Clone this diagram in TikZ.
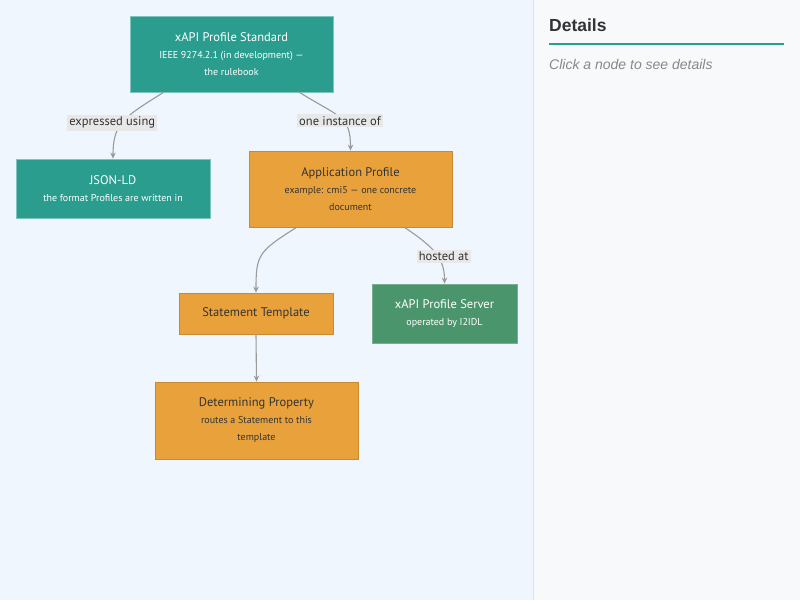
\documentclass[tikz,border=0pt]{standalone}
\usepackage{fontspec}
\setmainfont{PT Sans}
\newfontfamily\panelfont{Liberation Sans}
\usepackage{tikz}
\usetikzlibrary{positioning,arrows.meta}

\definecolor{stdteal}{HTML}{2A9D8F}
\definecolor{apporange}{HTML}{E9A23B}
\definecolor{srvgreen}{HTML}{4A956B}
\definecolor{edgegray}{HTML}{9A9A9A}
\definecolor{lblgray}{HTML}{E8E8E8}
\definecolor{textdark}{HTML}{333333}
\definecolor{leftbg}{HTML}{EFF6FD}
\definecolor{rightbg}{HTML}{F7F9FB}
\definecolor{panelline}{HTML}{DDE3E8}
\definecolor{hintgray}{HTML}{888888}

\newcommand{\ttl}[1]{{\fontsize{12.5}{17}\selectfont #1}}

\tikzset{
  box/.style={rectangle, align=center, inner sep=0pt, line width=0.8pt,
    font=\fontsize{10}{17}\selectfont},
  tealbox/.style={box, fill=stdteal, draw=stdteal!60!white, text=white},
  orangebox/.style={box, fill=apporange, draw=apporange!85!black, text=textdark},
  greenbox/.style={box, fill=srvgreen, draw=srvgreen!75!white, text=white},
  edge/.style={draw=edgegray, line width=1.1pt, -{Stealth[length=6pt,width=5.5pt]}},
  lbl/.style={fill=lblgray, text=textdark, inner sep=2pt,
    font=\fontsize{12.5}{14}\selectfont}
}

\begin{document}
\begin{tikzpicture}[x=1pt,y=-1pt]
    \useasboundingbox (0,0) rectangle (800,600);
    \fill[leftbg] (0,0) rectangle (533,600);
    \fill[rightbg] (534,0) rectangle (800,600);
    \draw[panelline] (533.5,0) -- (533.5,600);

    \node[tealbox, minimum width=203, minimum height=76] (std) at (231.5,54)
        {\ttl{xAPI Profile Standard}\\IEEE 9274.2.1 (in development) ---\\the rulebook};
    \node[tealbox, minimum width=194, minimum height=59] (json) at (113,188.5)
        {\ttl{JSON-LD}\\the format Profiles are written in};
    \node[orangebox, minimum width=203, minimum height=76] (app) at (350.5,189)
        {\ttl{Application Profile}\\example: cmi5 --- one concrete\\document};
    \node[orangebox, minimum width=154, minimum height=41] (stmt) at (256,313.5)
        {\ttl{Statement Template}};
    \node[greenbox, minimum width=145, minimum height=59] (srv) at (444.5,313.5)
        {\ttl{xAPI Profile Server}\\operated by I2IDL};
    \node[orangebox, minimum width=203, minimum height=77] (det) at (256.5,420.5)
        {\ttl{Determining Property}\\routes a Statement to this\\template};

    \draw[edge] ([xshift=-68]std.south) .. controls +(-40,25) and +(0,-35) .. node[lbl, pos=0.5, xshift=-11, yshift=-1] {expressed using} (json.north);
    \draw[edge] ([xshift=68]std.south) .. controls +(40,25) and +(0,-35) .. node[lbl, pos=0.5, yshift=-3] {one instance of} (app.north);
    \draw[edge] ([xshift=-54]app.south) .. controls +(-38,24) and +(0,-38) .. (stmt.north);
    \draw[edge] ([xshift=54]app.south) .. controls +(30,20) and +(0,-25) .. node[lbl, pos=0.5, xshift=8, yshift=-3] {hosted at} (srv.north);
    \draw[edge] (stmt.south) -- (det.north);

    \node[anchor=base west, inner sep=0pt, text=textdark, font=\panelfont\bfseries\fontsize{17.5}{20}\selectfont] (dettitle) at (549,31) {Details};
    \draw[stdteal, line width=2pt] (549,44) -- (784,44);
    \node[anchor=base west, inner sep=0pt, text=hintgray, font=\panelfont\itshape\fontsize{14}{16}\selectfont] (hint) at (549,69) {Click a node to see details};
\end{tikzpicture}
\end{document}
